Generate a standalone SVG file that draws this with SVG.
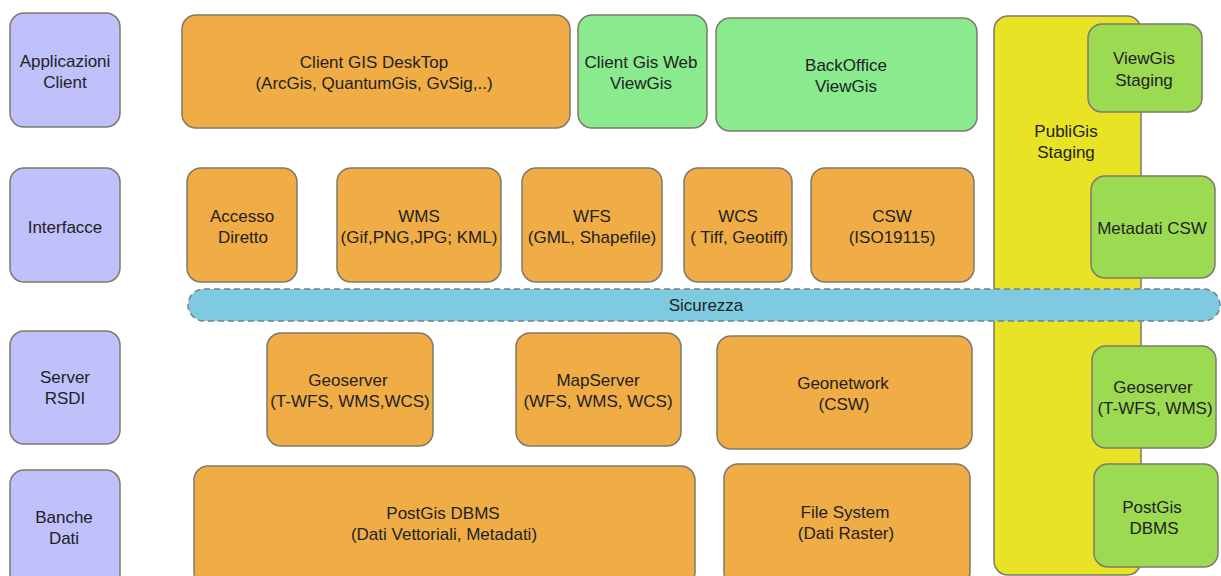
<svg xmlns="http://www.w3.org/2000/svg" width="1221" height="576" viewBox="0 0 1221 576">
<style>
rect{stroke:#7d7a6e;stroke-width:1.5}
rect.bg{fill:#fff;stroke:none}
.p{fill:#c0c0fb}
.o{fill:#f0ac45}
.g{fill:#8aeb8e}
.d{fill:#9cda52}
.y{fill:#e8e324}
.b{fill:#7ecbe1;stroke:#7a7f86;stroke-dasharray:6 4}
text{font-family:"Liberation Sans",Arial,sans-serif;font-size:17px;fill:#222;text-anchor:middle}
</style>
<rect class="bg" width="1221" height="576"/>
<g id="publigis"><rect class="y" x="994" y="16" width="147" height="559" rx="14"/><text x="1066" y="137">PubliGis</text><text x="1066" y="158">Staging</text></g>
<g id="applicazioni"><rect class="p" x="10" y="13" width="110" height="114" rx="14"/><text x="65" y="67">Applicazioni</text><text x="65" y="88">Client</text></g>
<g id="interfacce"><rect class="p" x="10" y="168" width="110" height="114" rx="14"/><text x="65" y="233">Interfacce</text></g>
<g id="server"><rect class="p" x="10" y="331" width="110" height="113" rx="14"/><text x="65" y="383">Server</text><text x="65" y="404">RSDI</text></g>
<g id="banche"><rect class="p" x="10" y="470" width="110" height="120" rx="14"/><text x="64" y="523">Banche</text><text x="64" y="544">Dati</text></g>
<g id="desktop"><rect class="o" x="182" y="15" width="388" height="113" rx="14"/><text x="374" y="68">Client GIS DeskTop</text><text x="374" y="89">(ArcGis, QuantumGis, GvSig,..)</text></g>
<g id="webviewgis"><rect class="g" x="578" y="15" width="129" height="113" rx="14"/><text x="641" y="68">Client Gis Web</text><text x="641" y="89">ViewGis</text></g>
<g id="backoffice"><rect class="g" x="716" y="18" width="261" height="113" rx="14"/><text x="846" y="71">BackOffice</text><text x="846" y="92">ViewGis</text></g>
<g id="viewgisstaging"><rect class="d" x="1088" y="24" width="114" height="88" rx="14"/><text x="1144" y="64">ViewGis</text><text x="1144" y="86">Staging</text></g>
<g id="accesso"><rect class="o" x="187" y="168" width="110" height="114" rx="14"/><text x="242" y="222">Accesso</text><text x="243" y="243">Diretto</text></g>
<g id="wms"><rect class="o" x="337" y="168" width="164" height="114" rx="14"/><text x="419" y="222">WMS</text><text x="419" y="243">(Gif,PNG,JPG; KML)</text></g>
<g id="wfs"><rect class="o" x="522" y="168" width="140" height="114" rx="14"/><text x="592" y="222">WFS</text><text x="592" y="243">(GML, Shapefile)</text></g>
<g id="wcs"><rect class="o" x="684" y="168" width="108" height="114" rx="14"/><text x="738" y="222">WCS</text><text x="739" y="243">( Tiff, Geotiff)</text></g>
<g id="csw"><rect class="o" x="811" y="168" width="163" height="114" rx="14"/><text x="892" y="222">CSW</text><text x="892" y="243">(ISO19115)</text></g>
<g id="metadaticsw"><rect class="d" x="1091" y="176" width="124" height="102" rx="14"/><text x="1152" y="234">Metadati CSW</text></g>
<g id="sicurezza"><rect class="b" x="188" y="289" width="1032" height="32" rx="16"/><text x="706" y="311">Sicurezza</text></g>
<g id="geoserver"><rect class="o" x="267" y="333" width="166" height="113" rx="14"/><text x="348" y="386">Geoserver</text><text x="350" y="407">(T-WFS, WMS,WCS)</text></g>
<g id="mapserver"><rect class="o" x="516" y="333" width="165" height="113" rx="14"/><text x="598" y="386">MapServer</text><text x="598" y="407">(WFS, WMS, WCS)</text></g>
<g id="geonetwork"><rect class="o" x="717" y="336" width="255" height="113" rx="14"/><text x="843" y="389">Geonetwork</text><text x="844" y="410">(CSW)</text></g>
<g id="geoserverstaging"><rect class="d" x="1092" y="346" width="124" height="102" rx="14"/><text x="1153" y="393">Geoserver</text><text x="1155" y="414">(T-WFS, WMS)</text></g>
<g id="postgis"><rect class="o" x="194" y="466" width="501" height="120" rx="14"/><text x="443" y="519">PostGis DBMS</text><text x="444" y="540">(Dati Vettoriali, Metadati)</text></g>
<g id="filesystem"><rect class="o" x="724" y="464" width="246" height="122" rx="14"/><text x="845" y="518">File System</text><text x="846" y="539">(Dati Raster)</text></g>
<g id="postgisstaging"><rect class="d" x="1094" y="464" width="124" height="103" rx="14"/><text x="1152" y="513">PostGis</text><text x="1154" y="534">DBMS</text></g>
<g id="connectors"></g>
</svg>
